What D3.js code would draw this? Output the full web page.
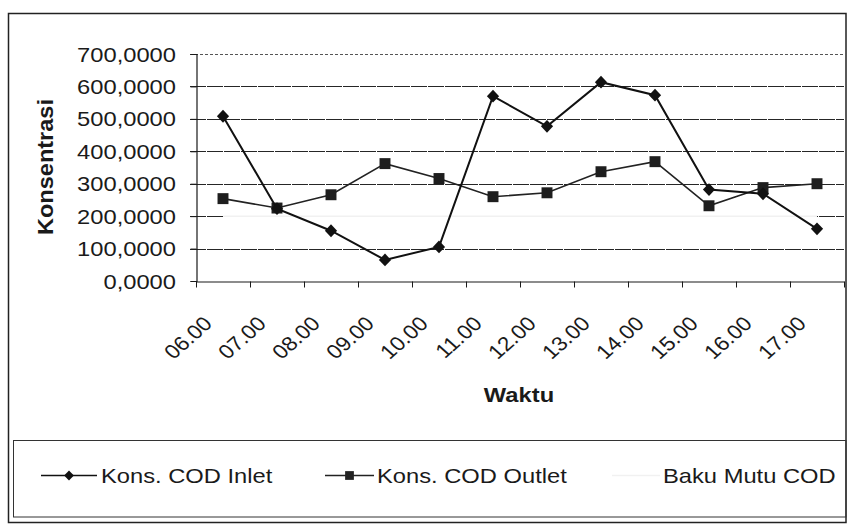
<!DOCTYPE html>
<html>
<head>
<meta charset="utf-8">
<script src="https://cdn.jsdelivr.net/npm/d3@7"></script>
<style>
  html, body { margin: 0; padding: 0; background: #fff; }
  svg { display: block; font-family: "Liberation Sans", Arial, sans-serif; }
</style>
</head>
<body>
<svg id="chart" width="849" height="524"></svg>
<script>
// Sampling hours
const categories = ["06.00","07.00","08.00","09.00","10.00","11.00","12.00","13.00","14.00","15.00","16.00","17.00"];
// COD concentration at the inlet and outlet
const inletCOD  = [508, 223, 155, 65, 105, 570, 477, 613, 573, 282, 269, 161];
const outletCOD = [254, 225, 266, 362, 316, 260, 272, 337, 368, 232, 288, 300];
// Quality standard (baku mutu)
const bakuMutuCOD = [200, 200, 200, 200, 200, 200, 200, 200, 200, 200, 200, 200];
// Value axis ticks
const yTicks = [0, 100, 200, 300, 400, 500, 600, 700];

const seriesNames = ["Kons. COD Inlet", "Kons. COD Outlet", "Baku Mutu COD"];

const svg = d3.select("#chart");
const ink = "#1a1a1a";
const stretch = 1.13;

const plot = { left: 196, right: 844, top: 54, bottom: 281 };

const x = d3.scaleBand().domain(categories).range([plot.left, plot.right]).padding(0);
const y = d3.scaleLinear().domain([0, 700]).range([plot.bottom, plot.top]);
const cx = c => x(c) + x.bandwidth() / 2;

const idLocale = d3.formatLocale({ decimal: ",", thousands: ".", grouping: [3], currency: ["", ""] });
const fmt = idLocale.format(".4f");

// Outer chart frame
svg.append("rect")
  .attr("x", 8.5).attr("y", 13.5).attr("width", 837.5).attr("height", 509)
  .attr("fill", "none").attr("stroke", "#222").attr("stroke-width", 1.5);

// Gridlines
svg.append("g").selectAll("line").data(yTicks.filter(t => t > 0)).join("line")
  .attr("x1", plot.left - 6).attr("x2", plot.right)
  .attr("y1", d => Math.round(y(d)) + 0.5).attr("y2", d => Math.round(y(d)) + 0.5)
  .attr("stroke", d => d === 700 ? "#555" : "#262626")
  .attr("stroke-width", 1)
  .attr("stroke-dasharray", d => d === 700 ? "3,2" : "16,1");

// Standard line (printed in a very pale tone)
const lineGen = d3.line().x((d, i) => cx(categories[i])).y(d => y(d));
svg.append("path").datum(bakuMutuCOD)
  .attr("d", lineGen).attr("fill", "none")
  .attr("stroke", "#f1f1f1").attr("stroke-width", 1.5);

// Axes
const yAxis = d3.axisLeft(y).tickValues(yTicks).tickSize(6).tickFormat("");
const gy = svg.append("g").attr("transform", `translate(${plot.left + 0.5},0)`).call(yAxis);
gy.select(".domain").attr("stroke", ink).attr("stroke-width", 1.2);
gy.selectAll(".tick line").attr("stroke", ink);

const xAxis = d3.axisBottom(x).tickSize(0).tickFormat("");
const gx = svg.append("g").attr("transform", `translate(0,${Math.round(plot.bottom) + 0.5})`).call(xAxis);
gx.select(".domain").attr("stroke", ink).attr("stroke-width", 1.2);
// Ticks between categories
const boundaries = categories.map(c => x(c)).concat([plot.right]);
gx.selectAll(".bound").data(boundaries).join("line")
  .attr("class", "bound")
  .attr("x1", d => Math.round(d) + 0.5).attr("x2", d => Math.round(d) + 0.5)
  .attr("y1", 0).attr("y2", 6)
  .attr("stroke", ink);

// Y tick labels
svg.append("g").selectAll("g").data(yTicks).join("g")
  .attr("transform", d => `translate(176,${y(d) + 7.5}) scale(${stretch},1)`)
  .append("text")
  .attr("text-anchor", "end")
  .attr("font-size", 21)
  .attr("fill", ink)
  .text(d => fmt(d));

// X tick labels, rotated
svg.append("g").selectAll("g").data(categories).join("g")
  .attr("transform", d => `translate(${cx(d) - 9.5},325) scale(${stretch},1) rotate(-45)`)
  .append("text")
  .attr("text-anchor", "end")
  .attr("font-size", 20)
  .attr("fill", ink)
  .text(d => d);

// Axis titles
svg.append("text")
  .attr("transform", "translate(53,167) rotate(-90)")
  .attr("text-anchor", "middle")
  .attr("font-size", 22).attr("font-weight", "bold")
  .attr("textLength", 136).attr("lengthAdjust", "spacingAndGlyphs")
  .attr("fill", ink)
  .text("Konsentrasi");

svg.append("g").attr("transform", `translate(519,402) scale(${stretch},1)`)
  .append("text")
  .attr("text-anchor", "middle")
  .attr("font-size", 21).attr("font-weight", "bold")
  .attr("fill", ink)
  .text("Waktu");

// Data series
const diamond = d3.symbol().type(d3.symbolDiamond2).size(95);
const square = d3.symbol().type(d3.symbolSquare).size(120);

svg.append("path").datum(outletCOD)
  .attr("d", lineGen).attr("fill", "none")
  .attr("stroke", "#222").attr("stroke-width", 1.6);
svg.append("g").selectAll("path").data(outletCOD).join("path")
  .attr("transform", (d, i) => `translate(${cx(categories[i])},${y(d)})`)
  .attr("d", square).attr("fill", "#1e1e1e");

svg.append("path").datum(inletCOD)
  .attr("d", lineGen).attr("fill", "none")
  .attr("stroke", "#111").attr("stroke-width", 2);
svg.append("g").selectAll("path").data(inletCOD).join("path")
  .attr("transform", (d, i) => `translate(${cx(categories[i])},${y(d)}) scale(1,1.05)`)
  .attr("d", diamond).attr("fill", "#111");

// Legend
svg.append("rect")
  .attr("x", 13.5).attr("y", 440.5).attr("width", 832.5).attr("height", 76.5)
  .attr("fill", "none").attr("stroke", "#333").attr("stroke-width", 1);

const legendY = 475.5;
const legendItems = [
  { name: seriesNames[0], x0: 41, x1: 97, tx: 101, marker: diamond, color: "#111" },
  { name: seriesNames[1], x0: 325, x1: 374, tx: 377, marker: square, color: "#222" },
  { name: seriesNames[2], x0: 612, x1: 660, tx: 663, marker: null, color: "#f1f1f1" }
];
const lg = svg.append("g").selectAll("g").data(legendItems).join("g");
lg.append("line")
  .attr("x1", d => d.x0).attr("x2", d => d.x1)
  .attr("y1", legendY).attr("y2", legendY)
  .attr("stroke", d => d.color).attr("stroke-width", 1.5);
lg.filter(d => d.marker !== null).append("path")
  .attr("transform", d => `translate(${(d.x0 + d.x1) / 2},${legendY}) scale(0.8)`)
  .attr("d", d => d.marker())
  .attr("fill", d => d.color);
lg.append("g")
  .attr("transform", d => `translate(${d.tx},${legendY + 7.5}) scale(${stretch},1)`)
  .append("text")
  .attr("font-size", 21)
  .attr("fill", ink)
  .text(d => d.name);
</script>
</body>
</html>
